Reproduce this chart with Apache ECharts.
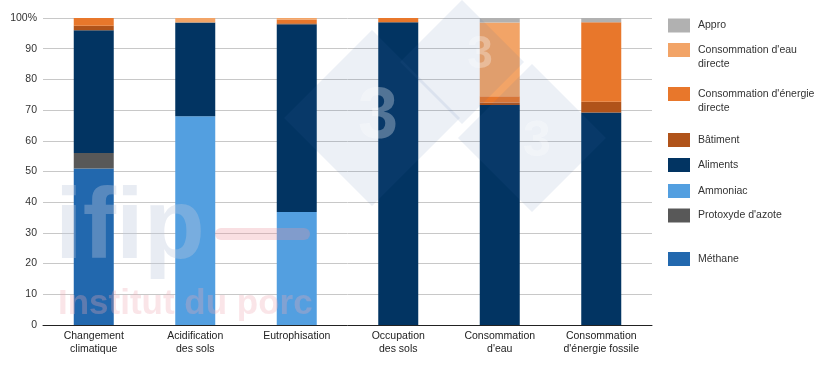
<!DOCTYPE html>
<html><head><meta charset="utf-8">
<script src="https://cdn.jsdelivr.net/npm/echarts@6/dist/echarts.min.js"></script>
<style>html,body{margin:0;padding:0;background:#fff}#c{width:820px;height:373px}</style>
</head><body><div id="c"></div>
<script>
const categories = ['Changement\nclimatique','Acidification\ndes sols','Eutrophisation','Occupation\ndes sols','Consommation\nd\'eau','Consommation\nd\'énergie fossile'];
const methane    = [51, 0, 0, 0, 0, 0];
const protoxyde  = [5, 0, 0, 0, 0, 0];
const ammoniac   = [0, 68, 36.8, 0, 0, 0];
const aliments   = [40, 30.5, 61.2, 98.6, 71.7, 69.2];
const batiment   = [1.5, 0, 0.3, 0, 0.8, 3.5];
const energieDir = [2.5, 0, 1.2, 1.4, 2, 25.9];
const eauDir     = [0, 1.5, 0.5, 0, 24, 0];
const appro      = [0, 0, 0, 0, 1.5, 1.4];
const yTicks = [0,10,20,30,40,50,60,70,80,90,100];

const seriesDefs = [
  {name:'Méthane', first:'Méthane', data:methane, color:'#2268ae', legendTop:252},
  {name:'Protoxyde d\'azote', first:'Protoxyde d\'azote', data:protoxyde, color:'#585858', legendTop:208.5},
  {name:'Ammoniac', first:'Ammoniac', data:ammoniac, color:'#539fe0', legendTop:184},
  {name:'Aliments', first:'Aliments', data:aliments, color:'#023462', legendTop:158},
  {name:'Bâtiment', first:'Bâtiment', data:batiment, color:'#b0531a', legendTop:133},
  {name:'Consommation d\'énergie directe', first:'Consommation d\'énergie', second:'directe', data:energieDir, color:'#e8772b', legendTop:87},
  {name:'Consommation d\'eau directe', first:'Consommation d\'eau', second:'directe', data:eauDir, color:'#f2a467', legendTop:43},
  {name:'Appro', first:'Appro', data:appro, color:'#b1b1b1', legendTop:18.5}
];

const chart = echarts.init(document.getElementById('c'));
const ff = 'Liberation Sans, Arial, sans-serif';
const legends = seriesDefs.map(s => ({
  data:[s.name], left:668, top:s.legendTop, itemWidth:22, itemHeight:14, itemGap:0, padding:0,
  selectedMode:false, icon:'rect', formatter:()=>s.first,
  textStyle:{fontFamily:ff, fontSize:10.5, color:'#333', lineHeight:14, padding:[0,0,0,3]}
}));

const wm = [];
seriesDefs.filter(s=>s.second).forEach(s=>{
  wm.push({type:'text', silent:true, x:698, y:s.legendTop+7+14.5, style:{text:s.second, font:'10.5px '+ff, fill:'#333', verticalAlign:'middle'}});
});
// diamonds watermark
[[372,118,88],[462,62,62],[532,138,74]].forEach(([cx,cy,r])=>{
  wm.push({type:'polygon', silent:true, z:100, shape:{points:[[cx,cy-r],[cx+r,cy],[cx,cy+r],[cx-r,cy]]},
    style:{fill:'rgba(70,110,170,0.10)'}});
});
[[378,118,72],[480,55,46],[537,142,50]].forEach(([x,y,s])=>{
  wm.push({type:'text', silent:true, z:101, x:x, y:y, style:{text:'3', font:'bold '+s+'px '+ff, fill:'rgba(255,255,255,0.3)', align:'center', verticalAlign:'middle'}});
});
wm.push({type:'text', silent:true, z:100, x:55, y:180, style:{text:'ifip', font:'bold 100px '+ff, fill:'rgba(190,200,220,0.35)'}});
wm.push({type:'rect', silent:true, z:100, shape:{x:215,y:228,width:95,height:12,r:6}, style:{fill:'rgba(235,150,160,0.3)'}});
wm.push({type:'text', silent:true, z:100, x:58, y:287, style:{text:'Institut du porc', font:'bold 35px '+ff, fill:'rgba(240,170,180,0.3)'}});

chart.setOption({
  animation:false,
  grid:{left:43, right:168, top:18, bottom:48},
  legend:legends,
  xAxis:{type:'category', data:categories,
    axisLine:{lineStyle:{color:'#222'}}, axisTick:{show:false},
    axisLabel:{fontFamily:ff, fontSize:10.5, color:'#222', lineHeight:13, margin:5, interval:0}},
  yAxis:{type:'value', min:0, max:100, interval:10,
    axisLine:{show:false}, axisTick:{show:false},
    splitLine:{lineStyle:{color:'#c8c8c8'}},
    axisLabel:{fontFamily:ff, fontSize:10.5, color:'#333', margin:6,
      formatter:v => v===100 ? '100%' : String(v)}},
  series:seriesDefs.map(s=>({name:s.name, type:'bar', stack:'t', barWidth:40,
    data:s.data, itemStyle:{color:s.color}})),
  graphic:wm
});
</script></body></html>
